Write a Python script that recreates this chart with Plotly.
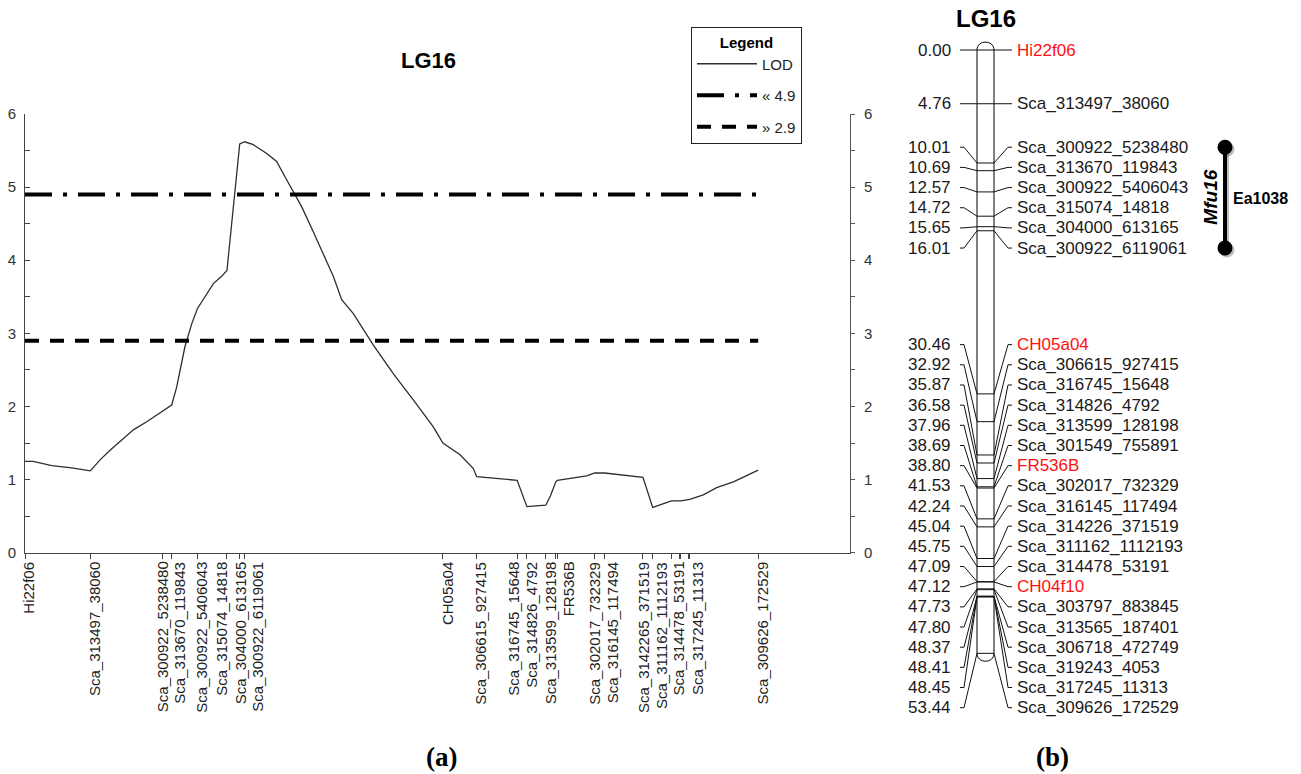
import plotly.graph_objects as go

# ---------------- data ----------------
marker_names = [
    "Hi22f06", "Sca_313497_38060", "Sca_300922_5238480", "Sca_313670_119843",
    "Sca_300922_5406043", "Sca_315074_14818", "Sca_304000_613165", "Sca_300922_6119061",
    "CH05a04", "Sca_306615_927415", "Sca_316745_15648", "Sca_314826_4792",
    "Sca_313599_128198", "Sca_301549_755891", "FR536B", "Sca_302017_732329",
    "Sca_316145_117494", "Sca_314226_371519", "Sca_311162_1112193", "Sca_314478_53191",
    "CH04f10", "Sca_303797_883845", "Sca_313565_187401", "Sca_306718_472749",
    "Sca_319243_4053", "Sca_317245_11313", "Sca_309626_172529",
]
marker_cm = [
    0.00, 4.76, 10.01, 10.69, 12.57, 14.72, 15.65, 16.01,
    30.46, 32.92, 35.87, 36.58, 37.96, 38.69, 38.80, 41.53,
    42.24, 45.04, 45.75, 47.09, 47.12, 47.73, 47.80, 48.37,
    48.41, 48.45, 53.44,
]
red_markers = ["Hi22f06", "CH05a04", "FR536B", "CH04f10"]

# markers labelled under the LOD plot (a)
axis_a_names = [
    "Hi22f06", "Sca_313497_38060", "Sca_300922_5238480", "Sca_313670_119843",
    "Sca_300922_5406043", "Sca_315074_14818", "Sca_304000_613165", "Sca_300922_6119061",
    "CH05a04", "Sca_306615_927415", "Sca_316745_15648", "Sca_314826_4792",
    "Sca_313599_128198", "FR536B", "Sca_302017_732329", "Sca_316145_117494",
    "Sca_3142265_371519", "Sca_311162_1112193", "Sca_314478_53191", "Sca_317245_11313",
    "Sca_309626_172529",
]
axis_a_cm = [
    0.00, 4.76, 10.01, 10.69, 12.57, 14.72, 15.65, 16.01,
    30.46, 32.92, 35.87, 36.58, 37.96, 38.80, 41.53, 42.24,
    45.04, 45.75, 47.09, 48.45, 53.44,
]

# LOD profile
lod_cm = [
    0.0, 0.6, 1.95, 3.4, 4.76, 5.47, 6.2, 7.9, 8.87, 10.01, 10.69, 11.05, 11.66,
    12.15, 12.57, 13.73, 14.33, 14.72, 15.65, 16.01, 16.64, 17.62, 18.34, 19.07,
    20.17, 21.01, 21.74, 22.47, 23.08, 23.93, 25.39, 26.84, 28.3, 29.76, 30.46,
    31.71, 32.68, 32.92, 35.87, 36.58, 37.96, 38.3, 38.69, 38.80, 40.94, 41.53,
    42.24, 43.37, 45.04, 45.75, 46.6, 47.09, 47.12, 47.73, 47.80, 48.45, 49.44,
    50.41, 51.63, 53.44,
]
lod_score = [
    1.25, 1.25, 1.19, 1.16, 1.12, 1.27, 1.40, 1.68, 1.79, 1.93, 2.02, 2.26, 2.82,
    3.13, 3.34, 3.68, 3.78, 3.86, 5.59, 5.62, 5.58, 5.46, 5.35, 5.10,
    4.73, 4.39, 4.09, 3.78, 3.46, 3.27, 2.84, 2.45, 2.09, 1.72, 1.50,
    1.34, 1.15, 1.04, 0.99, 0.63, 0.65, 0.78, 0.97, 0.99, 1.05, 1.09,
    1.09, 1.07, 1.03, 0.62, 0.68, 0.71, 0.71, 0.71, 0.71, 0.73, 0.79,
    0.89, 0.97, 1.13,
]

threshold_names = ["« 4.9", "» 2.9"]
threshold_values = [4.9, 2.9]
lod_ticks = [0, 1, 2, 3, 4, 5, 6]

qtl_name = "Mfu16"
qtl_trait = "Ea1038"
qtl_from_cm = 10.01
qtl_to_cm = 16.01

# ---------------- geometry / style ----------------
W, H = 1301, 774
FONT = "Liberation Sans, Arial, sans-serif"
SERIF = "Liberation Serif, Times New Roman, serif"

A_X0, A_X1 = 25, 850          # px of LOD plot x-axis
A_Y0, A_Y1 = 552.7, 114       # px of LOD 0 and LOD 6
A_XMAX = 60.13
A_SCALE = (A_X1 - A_X0) / A_XMAX

B_TOP = 50.0                  # px of 0 cM in map (b)
B_SCALE = 11.29               # px per cM in map (b)
BAR_L, BAR_R = 977, 994
NUM_X, LINE_L0, LINE_L1 = 953, 960, 964
LINE_R1, LINE_R0, NAME_X = 1008, 1012, 1015
QTL_X = 1225


def spread(desired, gap):
    clusters = []
    for i, d in enumerate(desired):
        clusters.append([d, [i]])
        while len(clusters) > 1:
            s_prev, idx_prev = clusters[-2]
            s_cur, idx_cur = clusters[-1]
            end_prev = s_prev + (len(idx_prev) - 1) * gap
            if s_cur < end_prev + gap - 1e-9:
                idx = idx_prev + idx_cur
                mid = (desired[idx[0]] + desired[idx[-1]]) / 2
                mean = sum(desired[j] for j in idx) / len(idx)
                center = 0.75 * mid + 0.25 * mean
                clusters[-2:] = [[center - (len(idx) - 1) * gap / 2, idx]]
            else:
                break
    out = [0.0] * len(desired)
    for s, idx in clusters:
        for k, i in enumerate(idx):
            out[i] = s + k * gap
    return out


def paper_text(px, py, text, font):
    return dict(x=px / W, y=1 - py / H, xref="paper", yref="paper", text=text,
                showarrow=False, xanchor="center", yanchor="middle", font=font)


fig = go.Figure()

# ---------------- panel (a): LOD profile ----------------
fig.add_trace(go.Scatter(
    x=lod_cm, y=lod_score, mode="lines", name="LOD", legendgroup="g1",
    line=dict(color="#2e2e2e", width=1.3), xaxis="x", yaxis="y", hoverinfo="skip"))
dashes = ["27px,11px,4px,11px", "14px,11px"]
for nm, val, ds, grp in zip(threshold_names, threshold_values, dashes, ["g2", "g3"]):
    fig.add_trace(go.Scatter(
        x=[min(marker_cm), max(marker_cm)], y=[val, val], mode="lines", name=nm,
        legendgroup=grp, line=dict(color="black", width=4, dash=ds),
        xaxis="x", yaxis="y2", hoverinfo="skip"))

annotations = []
label_px = spread([A_X0 + c * A_SCALE for c in axis_a_cm], 18)
for nm, px in zip(axis_a_names, label_px):
    annotations.append(dict(
        x=(px + 4 - A_X0) / A_SCALE, xref="x", y=0, yref="y", yshift=-7,
        text=nm, textangle=-90, showarrow=False, xanchor="center", yanchor="top",
        font=dict(family=FONT, size=15, color="#222")))

annotations.append(paper_text(428, 61, "<b>LG16</b>",
                              dict(family=FONT, size=22, color="black")))
annotations.append(paper_text(441, 757, "<b>(a)</b>",
                              dict(family=SERIF, size=27, color="black")))
annotations.append(paper_text(1052, 757, "<b>(b)</b>",
                              dict(family=SERIF, size=27, color="black")))

# ---------------- panel (b): linkage map ----------------
label_cm = spread(marker_cm, 20.17 / B_SCALE)
bot = max(marker_cm)
top = min(marker_cm)
cap = 10.5 / B_SCALE
shapes = [dict(
    type="path", xref="x2", yref="y3", layer="below",
    path=(f"M {BAR_L},{top} L {BAR_L},{bot} C {BAR_L},{bot + cap} {BAR_R},{bot + cap} {BAR_R},{bot} "
          f"L {BAR_R},{top} C {BAR_R},{top - cap} {BAR_L},{top - cap} {BAR_L},{top} Z"),
    line=dict(color="black", width=1), fillcolor="white")]

cx, cy = [], []
for p, ly in zip(marker_cm, label_cm):
    cx += [LINE_L0, LINE_L1, BAR_L, BAR_R, LINE_R1, LINE_R0, None]
    cy += [ly, ly, p, p, ly, ly, None]
fig.add_trace(go.Scatter(x=cx, y=cy, mode="lines", line=dict(color="#111", width=1),
                         xaxis="x2", yaxis="y3", showlegend=False, hoverinfo="skip"))

for nm, p, ly in zip(marker_names, marker_cm, label_cm):
    annotations.append(dict(x=NUM_X, y=ly, xref="x2", yref="y3", text=f"{p:.2f}",
                            showarrow=False, xanchor="right", yanchor="middle",
                            font=dict(family=FONT, size=17, color="#1a1a1a")))
    annotations.append(dict(x=NAME_X, y=ly, xref="x2", yref="y3", text=nm,
                            showarrow=False, xanchor="left", yanchor="middle",
                            font=dict(family=FONT, size=17,
                                      color="#ff1010" if nm in red_markers else "#1a1a1a")))

q0 = label_cm[marker_cm.index(qtl_from_cm)]
q1 = label_cm[marker_cm.index(qtl_to_cm)]
fig.add_trace(go.Scatter(x=[QTL_X + 2, QTL_X + 2], y=[q0 + 2 / B_SCALE, q1 + 2 / B_SCALE],
                         mode="lines+markers", line=dict(color="rgba(0,0,0,0.25)", width=4),
                         marker=dict(size=15, color="rgba(0,0,0,0.25)"),
                         xaxis="x2", yaxis="y3", showlegend=False, hoverinfo="skip"))
fig.add_trace(go.Scatter(x=[QTL_X, QTL_X], y=[q0, q1], mode="lines+markers",
                         line=dict(color="black", width=4), marker=dict(size=15, color="black"),
                         xaxis="x2", yaxis="y3", showlegend=False, hoverinfo="skip"))
annotations.append(dict(x=QTL_X - 14, y=(q0 + q1) / 2, xref="x2", yref="y3",
                        text=f"<b><i>{qtl_name}</i></b>", textangle=-90, showarrow=False,
                        xanchor="center", yanchor="middle",
                        font=dict(family=FONT, size=19, color="black")))
annotations.append(dict(x=QTL_X + 6, y=(q0 + q1) / 2 + 0.1, xref="x2", yref="y3",
                        text=f"<b>{qtl_trait}</b>", showarrow=False,
                        xanchor="left", yanchor="middle",
                        font=dict(family=FONT, size=16, color="black")))
annotations.append(paper_text(986, 19, "<b>LG16</b>",
                              dict(family=FONT, size=24, color="black")))

axis_color = "#444"
fig.update_layout(
    width=W, height=H, margin=dict(l=0, r=0, t=0, b=0, pad=0, autoexpand=False),
    plot_bgcolor="rgba(0,0,0,0)", paper_bgcolor="white",
    showlegend=True,
    legend=dict(x=691 / W, y=1 - 27 / H, xanchor="left", yanchor="top",
                bordercolor="#222", borderwidth=1, bgcolor="white",
                title=dict(text="<b>Legend</b>", side="top center",
                           font=dict(family=FONT, size=15, color="black")),
                font=dict(family=FONT, size=15, color="#222"),
                itemwidth=60, traceorder="grouped", tracegroupgap=9),
    xaxis=dict(domain=[A_X0 / W, A_X1 / W], range=[0, A_XMAX], anchor="y",
               showgrid=False, zeroline=False, showline=True, linecolor=axis_color,
               linewidth=1, ticks="outside", ticklen=5, tickcolor=axis_color,
               tickvals=marker_cm, showticklabels=False, fixedrange=True),
    yaxis=dict(domain=[1 - A_Y0 / H, 1 - A_Y1 / H], range=[0, 6], anchor="x",
               showgrid=False, zeroline=False, showline=True, linecolor=axis_color,
               tickvals=lod_ticks, ticks="inside", ticklen=5, tickcolor=axis_color,
               minor=dict(dtick=0.5, ticks="inside", ticklen=5, tickcolor=axis_color),
               ticklabelstandoff=5,
               tickfont=dict(family=FONT, size=15, color="#333"), fixedrange=True),
    yaxis2=dict(overlaying="y", side="right", range=[0, 6], anchor="x",
                showgrid=False, zeroline=False, showline=True, linecolor="#555",
                tickvals=lod_ticks, ticks="outside", ticklen=4, tickcolor="#555",
                minor=dict(dtick=0.5, ticks="outside", ticklen=4, tickcolor="#555"),
                ticklabelstandoff=6,
                tickfont=dict(family=FONT, size=15, color="#333"), fixedrange=True),
    xaxis2=dict(domain=[0, 1], range=[0, W], anchor="y3", visible=False, fixedrange=True),
    yaxis3=dict(domain=[0, 1], range=[(H - B_TOP) / B_SCALE, -B_TOP / B_SCALE],
                anchor="x2", visible=False, fixedrange=True),
    shapes=shapes,
    annotations=annotations,
)

fig.write_html("out.html", config={"displayModeBar": False},
               post_script="document.body.style.margin='0px';document.body.style.overflow='hidden';")
